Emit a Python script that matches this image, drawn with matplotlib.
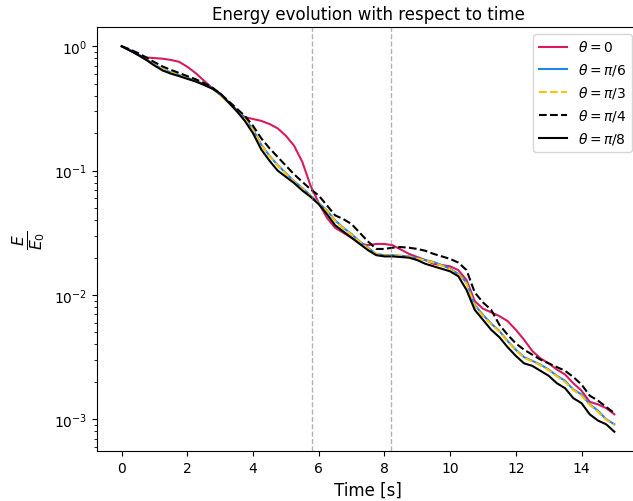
"""
Energy decay E/E0 over time for several launch angles theta
"""

import numpy as np
import matplotlib.pyplot as plt

# time grid (s)
time_s = np.arange(0, 15.01, 0.25)

# E/E0 (log10 values, one per time sample)
log_e_theta_0 = [
    0.0, -0.03, -0.07, -0.09, -0.095, -0.10, -0.11, -0.125, -0.165, -0.215,
    -0.275, -0.335, -0.385, -0.45, -0.52, -0.57, -0.585, -0.60, -0.625, -0.66,
    -0.72, -0.80, -0.93, -1.12, -1.26, -1.38, -1.46, -1.50, -1.54, -1.585,
    -1.60, -1.59, -1.59, -1.60, -1.635, -1.67, -1.695, -1.72, -1.75, -1.76,
    -1.77, -1.80, -1.88, -2.05, -2.11, -2.14, -2.17, -2.21, -2.28, -2.36,
    -2.45, -2.51, -2.55, -2.60, -2.64, -2.71, -2.77, -2.86, -2.88, -2.91,
    -2.96,
]
log_e_theta_pi6 = [
    0.0, -0.03, -0.065, -0.105, -0.148, -0.185, -0.21, -0.232, -0.255, -0.275,
    -0.305, -0.335, -0.39, -0.45, -0.51, -0.58, -0.67, -0.79, -0.88, -0.955,
    -1.02, -1.085, -1.14, -1.20, -1.26, -1.32, -1.40, -1.46, -1.51, -1.57,
    -1.62, -1.67, -1.68, -1.68, -1.685, -1.69, -1.705, -1.72, -1.735, -1.76,
    -1.79, -1.83, -1.90, -2.08, -2.16, -2.23, -2.29, -2.37, -2.44, -2.50,
    -2.53, -2.56, -2.60, -2.65, -2.69, -2.76, -2.80, -2.88, -2.93, -3.00,
    -3.04,
]
log_e_theta_pi3 = [
    0.0, -0.03, -0.066, -0.107, -0.15, -0.187, -0.212, -0.234, -0.257, -0.277,
    -0.307, -0.337, -0.392, -0.452, -0.515, -0.585, -0.675, -0.795, -0.885, -0.96,
    -1.025, -1.09, -1.145, -1.205, -1.265, -1.325, -1.405, -1.465, -1.515, -1.575,
    -1.625, -1.672, -1.683, -1.683, -1.688, -1.693, -1.708, -1.723, -1.74, -1.765,
    -1.795, -1.835, -1.91, -2.09, -2.17, -2.235, -2.295, -2.375, -2.445, -2.505,
    -2.535, -2.565, -2.605, -2.655, -2.70, -2.765, -2.81, -2.885, -2.94, -3.005,
    -3.045,
]
log_e_theta_pi4 = [
    0.0, -0.025, -0.055, -0.09, -0.128, -0.163, -0.19, -0.215, -0.24, -0.265,
    -0.295, -0.33, -0.38, -0.44, -0.50, -0.56, -0.64, -0.74, -0.82, -0.89,
    -0.96, -1.03, -1.09, -1.15, -1.20, -1.28, -1.36, -1.39, -1.43, -1.50,
    -1.57, -1.63, -1.63, -1.62, -1.615, -1.62, -1.63, -1.645, -1.67, -1.69,
    -1.71, -1.74, -1.80, -1.98, -2.06, -2.12, -2.24, -2.32, -2.39, -2.44,
    -2.48, -2.52, -2.55, -2.58, -2.61, -2.66, -2.72, -2.81, -2.85, -2.90,
    -2.95,
]
log_e_theta_pi8 = [
    0.0, -0.035, -0.07, -0.11, -0.155, -0.195, -0.22, -0.24, -0.262, -0.283,
    -0.31, -0.34, -0.38, -0.45, -0.52, -0.60, -0.70, -0.83, -0.92, -1.0,
    -1.05, -1.10, -1.16, -1.21, -1.27, -1.35, -1.44, -1.49, -1.54, -1.59,
    -1.64, -1.68, -1.69, -1.69, -1.695, -1.70, -1.72, -1.75, -1.77, -1.79,
    -1.81, -1.85, -1.96, -2.12, -2.20, -2.28, -2.34, -2.42, -2.49, -2.55,
    -2.57, -2.61, -2.65, -2.71, -2.75, -2.83, -2.87, -2.96, -3.01, -3.04,
    -3.10,
]

series = [
    (log_e_theta_0, r"$\theta = 0$", "#D81B60", "-"),
    (log_e_theta_pi6, r"$\theta = \pi/6$", "#1E88E5", "-"),
    (log_e_theta_pi3, r"$\theta = \pi/3$", "#FFC107", "--"),
    (log_e_theta_pi4, r"$\theta = \pi/4$", "black", "--"),
    (log_e_theta_pi8, r"$\theta = \pi/8$", "black", "-"),
]

# marked instants (s)
marks_s = [5.8, 8.2]

fig = plt.figure(figsize=(6.33, 5.02), dpi=100)
ax = fig.add_axes([97 / 633, 50 / 502, 542 / 633, 424 / 502])

for log_vals, label, color, ls in series:
    ax.semilogy(time_s, 10 ** np.array(log_vals), color=color, linestyle=ls, label=label)

for m in marks_s:
    ax.axvline(m, color="gray", linestyle="--", linewidth=1, alpha=0.6)

ax.set_xticks(np.arange(0, 15, 2))
ax.set_xlabel("Time [s]", fontsize=12)
ax.set_ylabel(r"$\frac{E}{E_0}$", fontsize=16)
ax.set_title("Energy evolution with respect to time")
ax.legend(loc="upper right")

fig.savefig("out.png", dpi=100)
plt.close(fig)
